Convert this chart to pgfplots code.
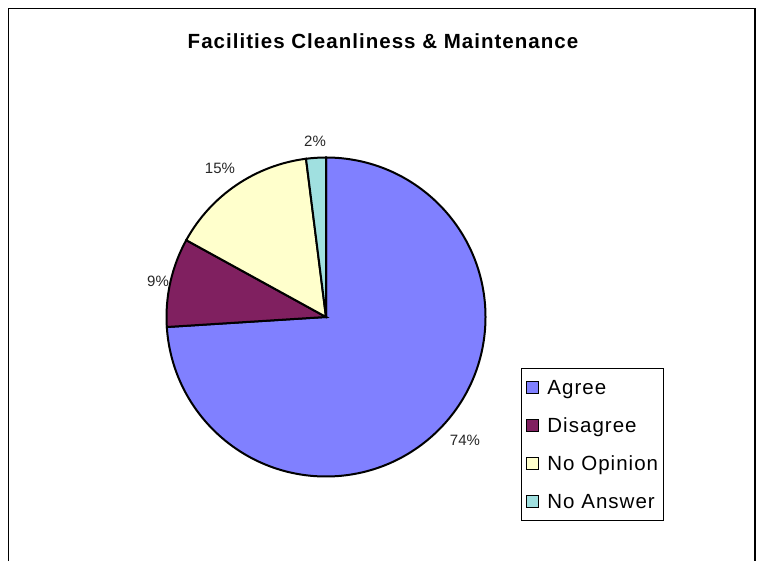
\documentclass[border=0pt]{standalone}
\usepackage{fontspec}
\setmainfont{Liberation Sans}
\newfontfamily\spaced[LetterSpace=5]{Liberation Sans}
\usepackage{pgfplots}
\pgfplotsset{compat=1.18}
\usepackage{pgfplotstable}
\definecolor{cagree}{RGB}{128,128,255}
\definecolor{cdisagree}{RGB}{128,32,96}
\definecolor{copinion}{RGB}{255,255,204}
\definecolor{canswer}{RGB}{160,224,224}

% share of answers, in per cent, clockwise from 12 o'clock
\pgfplotstableread{
label value
Agree 74
Disagree 9
{No Opinion} 15
{No Answer} 2
}\piedata

\begin{document}
\begin{tikzpicture}
\pgfplotstablegetelem{0}{value}\of\piedata\edef\vA{\pgfplotsretval}
\pgfplotstablegetelem{1}{value}\of\piedata\edef\vB{\pgfplotsretval}
\pgfplotstablegetelem{2}{value}\of\piedata\edef\vC{\pgfplotsretval}
\pgfplotstablegetelem{3}{value}\of\piedata\edef\vD{\pgfplotsretval}
\pgfmathsetmacro\aA{90}
\pgfmathsetmacro\aB{\aA-3.6*\vA}
\pgfmathsetmacro\aC{\aB-3.6*\vB}
\pgfmathsetmacro\aD{\aC-3.6*\vC}
\pgfmathsetmacro\aE{\aD-3.6*\vD}
\begin{axis}[
    scale only axis, width=757bp, height=561bp,
    xmin=0, xmax=757, ymin=0, ymax=561,
    enlargelimits=false, hide axis, clip=false,
    legend image code/.code={\filldraw[#1] (0bp,-6bp) rectangle (12bp,6bp);},
    legend style={at={(520.5/757,193/561)}, anchor=north west,
        draw=black, line width=0.8bp, font=\spaced\fontsize{20.5bp}{24bp}\selectfont,
        inner xsep=5.5bp, inner ysep=9.5bp, row sep=19bp,
        nodes={inner sep=0bp, text height=17bp, text depth=2bp},
        /tikz/column sep=8bp},
    legend cell align=left,
]
\path (axis cs:0,0) rectangle (axis cs:757,561);
\draw[line width=1.4bp] (axis cs:8.5,0) -- (axis cs:8.5,552.5) -- (axis cs:755,552.5) -- (axis cs:755,0);
\node[font=\spaced\bfseries\fontsize{20.5bp}{24bp}\selectfont] at (axis cs:383,520) {Facilities Cleanliness \& Maintenance};

\filldraw[fill=cagree, draw=black, line width=2bp] (axis cs:326,244) -- ++(\aA:159.5bp) arc[start angle=\aA, end angle=\aB, radius=159.5bp] -- cycle;
\filldraw[fill=cdisagree, draw=black, line width=2bp] (axis cs:326,244) -- ++(\aB:159.5bp) arc[start angle=\aB, end angle=\aC, radius=159.5bp] -- cycle;
\filldraw[fill=copinion, draw=black, line width=2bp] (axis cs:326,244) -- ++(\aC:159.5bp) arc[start angle=\aC, end angle=\aD, radius=159.5bp] -- cycle;
\filldraw[fill=canswer, draw=black, line width=2bp] (axis cs:326,244) -- ++(\aD:159.5bp) arc[start angle=\aD, end angle=\aE, radius=159.5bp] -- cycle;

\begin{scope}[font=\fontsize{15bp}{18bp}\selectfont, text=black!85]
\node at (axis cs:465,121) {\vA\%};
\node at (axis cs:158,280) {\vB\%};
\node at (axis cs:220,393) {\vC\%};
\node at (axis cs:315,420) {\vD\%};
\end{scope}

\addlegendimage{fill=cagree, draw=black, line width=1bp}
\addlegendentry{Agree}
\addlegendimage{fill=cdisagree, draw=black, line width=1bp}
\addlegendentry{Disagree}
\addlegendimage{fill=copinion, draw=black, line width=1bp}
\addlegendentry{No Opinion}
\addlegendimage{fill=canswer, draw=black, line width=1bp}
\addlegendentry{No Answer}
\end{axis}
\end{tikzpicture}
\end{document}
